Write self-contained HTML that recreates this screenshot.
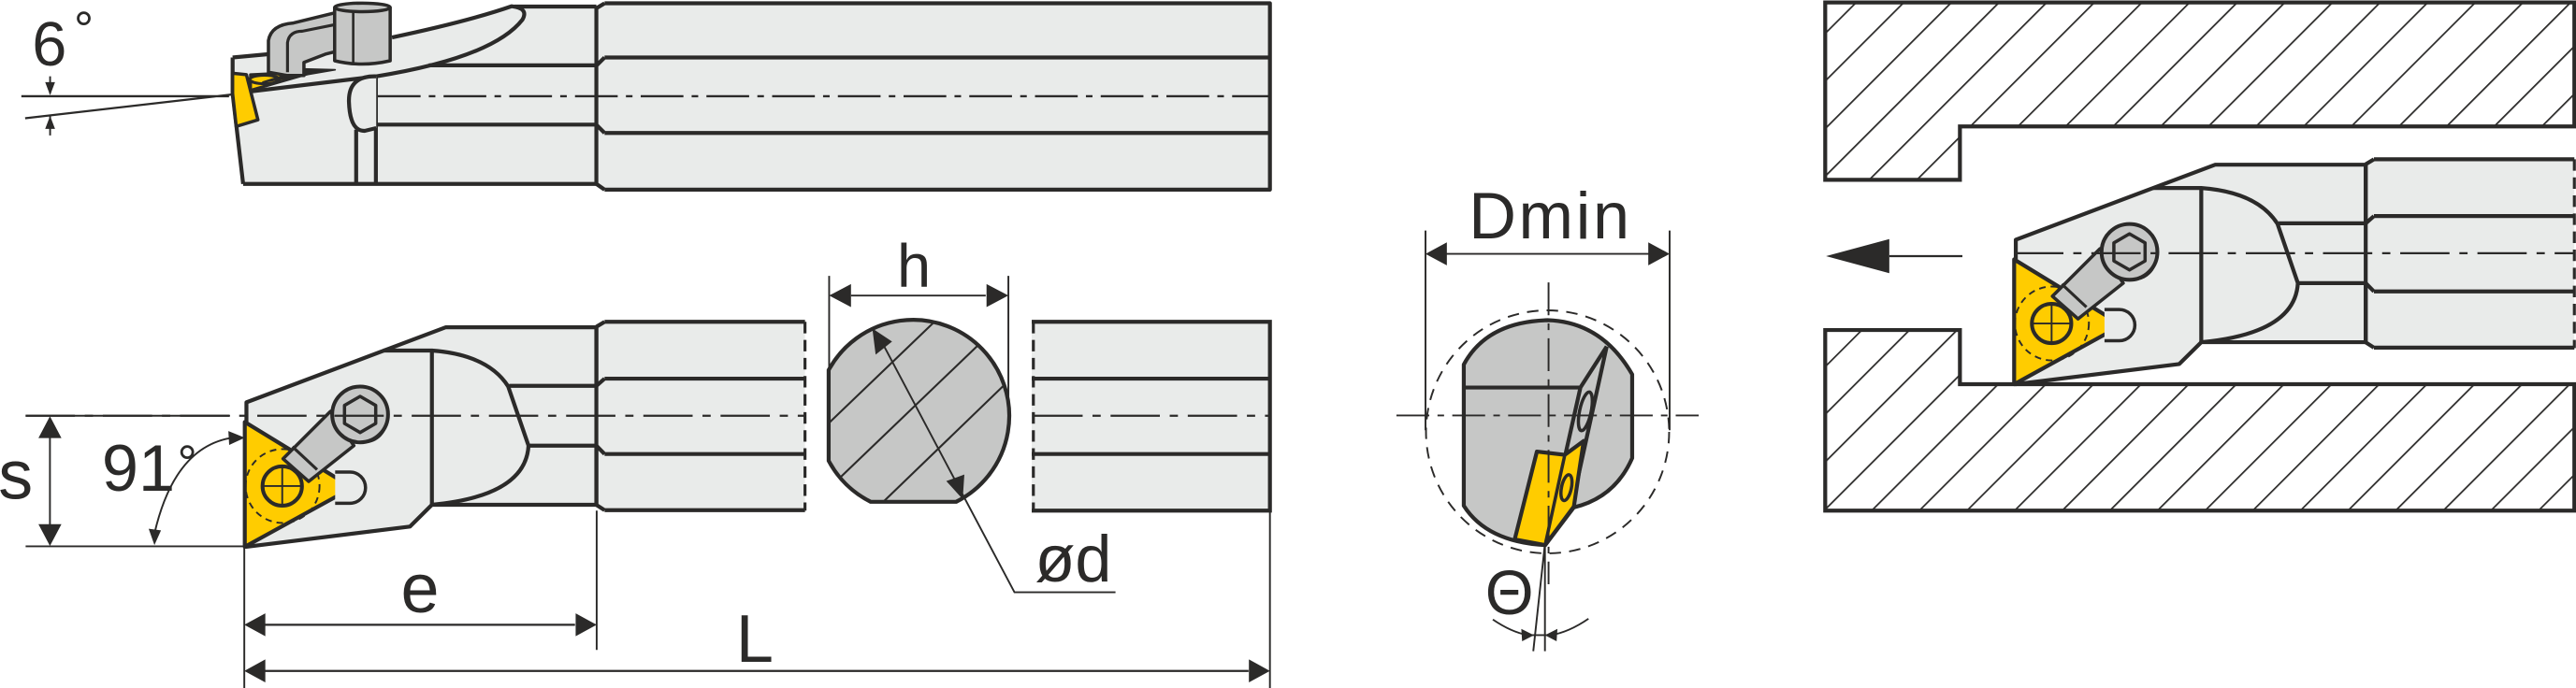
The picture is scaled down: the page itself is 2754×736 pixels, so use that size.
<!DOCTYPE html>
<html><head><meta charset="utf-8"><style>
html,body{margin:0;padding:0;background:#fff;}
svg{display:block;}
text{font-family:"Liberation Sans",sans-serif;fill:#2b2a29;}
</style></head><body>
<svg width="2754" height="736" viewBox="0 0 1568 419" preserveAspectRatio="none" xmlns="http://www.w3.org/2000/svg">
<defs>
<pattern id="hat" patternUnits="userSpaceOnUse" width="20.5" height="20.5" patternTransform="rotate(45)">
<rect width="20.5" height="20.5" fill="#fff"/>
<line x1="0" y1="0" x2="0" y2="20.5" stroke="#2b2a29" stroke-width="2"/>
</pattern>
<clipPath id="cc"><path d="M504.4,225.4 A58.5,58.5 0 1 1 582,305.6 L530,305.6 A58.5,58.5 0 0 1 504.4,280.6 Z"/></clipPath>
<g id="tool" stroke="#2b2a29" stroke-linejoin="round">
  <path d="M363,199 L368,196 L490,196 L490,311 L368,311 L363,307.5 Z" fill="#e9ebea" stroke="none"/>
  <path d="M368,196 L490,196 M368,230.6 L490,230.6 M368,276.5 L490,276.5 M368,310.7 L490,310.7 M363,199 L368,196 M363,235 L368,230.6 M363,271.4 L368,276.5 M363,307.5 L368,310.7" fill="none" stroke-width="2.4"/>
  <path d="M490,196 L490,311" stroke-width="1.8" stroke-dasharray="7,4" fill="none"/>
  <path d="M310,235 L363,235 L363,271.4 L322,271.4 Z" fill="#e9ebea" stroke="none"/>
  <path d="M150,245 L271.4,199.3 L363,199.3 L363,307.4 L262.9,307.4 L249.5,320.7 L150,333 Z" fill="#e9ebea" stroke-width="2.4"/>
  <path d="M363,199.3 L363,235 L310,235 M363,307.4 L363,271.4 L322,271.4" fill="none" stroke-width="2.4"/>
  <path d="M233.4,213.5 L262.9,213.5 L262.9,307.4 M262.9,213.5 Q297,216 309.3,235.3 L321.7,271.4 Q320,302 262.9,307.4" fill="none" stroke-width="2.4"/>
  <path d="M149,257 L214.5,297 L149,333 Z" fill="#ffcc00" stroke-width="2.4"/>
  <circle cx="172" cy="296" r="22.5" fill="none" stroke-width="1.1" stroke-dasharray="4,3"/>
  <circle cx="171.8" cy="296" r="12" fill="#ffcc00" stroke-width="2.3"/>
  <path d="M160,296 H184 M171.8,284 V308" stroke-width="1.1"/>
  <path d="M204,287.5 L213,287.5 A9.5,9.5 0 0 1 213,306.5 L204,306.5" fill="#e9ebea" stroke-width="2"/>
  <path d="M172.3,279.4 L187.9,293.2 L215.4,271.4 L201.2,250.5 Z" fill="#c6c7c6" stroke-width="2"/>
  <path d="M178,272 L193,286" stroke-width="1.8"/>
  <circle cx="222" cy="256" r="13" fill="#c6c7c6" stroke-width="1.8"/>
  <circle cx="219.2" cy="252.4" r="17" fill="#c6c7c6" stroke-width="2.3"/>
  <polygon points="219.2,241.4 228.7,246.9 228.7,257.9 219.2,263.4 209.7,257.9 209.7,246.9" fill="#c6c7c6" stroke-width="2"/>
</g>
</defs>

<g stroke="#2b2a29" stroke-linejoin="round">
  <path d="M142,35 L163,33 L239,23 Q290,12 313,4 L364,4 L364,112 L148,112 L141,58 Z" fill="#e9ebea" stroke="none"/>
  <path d="M368,2 L773,2 L773,115 L368,115 L363,112 L363,5 Z" fill="#e9ebea" stroke="none"/>
  <path d="M368,2 L773,2 L773,115.5 L368,115.5 M363,112 L368,115.5 M363,5 L368,2 M363,5 L363,112 M368,35 L773,35 M368,81 L773,81 M363,40 L368,35 M363,76 L368,81" fill="none" stroke-width="2.4"/>
  <path d="M261,39.8 L363,39.8 M229,75.9 L363,75.9 M313,4 L363,4 M148,112 L363,112" fill="none" stroke-width="2.4"/>
  <path d="M141.6,35 L163,33 M141.6,35 L141.6,57 L148,112" fill="none" stroke-width="2.4"/>
  <path d="M238.6,22.8 Q285,13 311.5,3.8 Q322,5 318,12 Q300,35 229,46.5 L141.6,57" fill="none" stroke-width="2.4"/>
  <path d="M216.8,79 L216.8,112 M228.8,46.5 L228.8,112" fill="none" stroke-width="2.4"/>
  <path d="M229,46.5 Q212,46 212.4,62 Q213,80 222,79.7 L229,78" fill="#e9ebea" stroke-width="2.4"/>
  <path d="M141.6,44.6 L150,45.5 L157,73 L143.8,77 L141.6,57 Z" fill="#ffcc00" stroke-width="2"/>
  <path d="M152.5,45.5 L191.7,43.6 L152.5,55 Z" fill="#ffcc00" stroke-width="1.8"/>
  <ellipse cx="161" cy="48.4" rx="9" ry="2.6" fill="#ffcc00" stroke-width="1.8"/>
  <path d="M185,42 L204,42.5 L160,50 Z" fill="#2b2a29" stroke-width="1"/>
  <path d="M163.4,34 L163.4,24.7 Q165,15 178.6,14 L204.8,7.6 L204.8,31.3 L198,33 L185,38 L185,46 L175,46 L163.4,44 Z" fill="#c6c7c6" stroke-width="2"/>
  <path d="M175,44 L175,26 Q176,19 184,19 L204,15" fill="none" stroke-width="1.8"/>
  <path d="M203.7,5 L203.7,37 Q220,41 237.5,37 L237.5,5 Z" fill="#c6c7c6" stroke-width="2"/>
  <ellipse cx="220.6" cy="4.5" rx="16.9" ry="2.6" fill="#c6c7c6" stroke-width="2"/>
  <path d="M215,6 L215,38" stroke-width="1.5"/>
  <path d="M230,58.6 L773,58.6" stroke-width="1.3" stroke-dasharray="26,5,4,5" fill="none"/>
  <path d="M13,58.6 L139.4,58.6 M15.3,72 L141.6,57.5" stroke-width="1.3" fill="none"/>
  <path d="M30.5,46.5 L30.5,57 M30.5,70.6 L30.5,82.5" stroke-width="1.1"/>
  <path d="M30.5,58 L27.5,50 L33.5,50 Z M30.5,70.6 L27.5,78.5 L33.5,78.5 Z" fill="#2b2a29" stroke="none"/>
</g>
<text x="19.5" y="39.8" font-size="38">6</text>
<text x="45" y="28" font-size="30">°</text>

<use href="#tool"/>
<g stroke="#2b2a29">
  <path d="M628,196 L773,196 L773,311 L628,311 Z" fill="#e9ebea" stroke="none"/>
  <path d="M628,196 L773,196 L773,311 L628,311 M628,230.6 L773,230.6 M628,276.5 L773,276.5" fill="none" stroke-width="2.4"/>
  <path d="M629,196 L629,311" stroke-width="1.8" stroke-dasharray="7,4"/>
  <path d="M15.6,253.2 L490,253.2 M629,253.2 L773,253.2" stroke-width="1.3" stroke-dasharray="30,6,5,6" fill="none"/>
  <path d="M15.6,253.2 L140,253.2 M15.6,332.7 L150,332.7" stroke-width="1.1"/>
  <path d="M504.4,225.4 A58.5,58.5 0 1 1 582,305.6 L530,305.6 A58.5,58.5 0 0 1 504.4,280.6 Z" fill="#c6c7c6" stroke="none"/>
  <g clip-path="url(#cc)" stroke-width="1.2">
    <line x1="500" y1="262" x2="575" y2="190"/>
    <line x1="506" y1="296" x2="605" y2="201"/>
    <line x1="530" y1="313" x2="618" y2="228"/>
  </g>
  <path d="M504.4,225.4 A58.5,58.5 0 1 1 582,305.6 L530,305.6 A58.5,58.5 0 0 1 504.4,280.6 Z" fill="none" stroke-width="2.4"/>
  <path d="M534.3,203.6 L617.5,360.7 L679,360.7" fill="none" stroke-width="1.1"/>
  <path d="M531,200 L543,208 L533,216 Z M586,304 L576,293 L587,289 Z" fill="#2b2a29" stroke="none"/>
  <path d="M504.7,168 L504.7,225 M613.8,168 L613.8,250 M518,180 L600,180" stroke-width="1.1"/>
  <path d="M504.7,180 L518,173 L518,187 Z M613.8,180 L600.5,173 L600.5,187 Z" fill="#2b2a29" stroke="none"/>
  <path d="M30.4,266 L30.4,320" stroke-width="1.1"/>
  <path d="M30.4,253.5 L23.4,266.8 L37.4,266.8 Z M30.4,332.5 L23.4,319.2 L37.4,319.2 Z" fill="#2b2a29" stroke="none"/>
  <path d="M140,266.8 Q106,273 94,325" fill="none" stroke-width="1.1"/>
  <path d="M149,266.6 L139,262.5 L139.5,271 Z M94,332 L90.5,322 L98,323 Z" fill="#2b2a29" stroke="none"/>
  <path d="M148.7,333 L148.7,419 M363.2,311 L363.2,395.8 M773,311 L773,419" stroke-width="1.1"/>
  <path d="M161,380.5 L350,380.5 M161,408.6 L760,408.6" stroke-width="1.3"/>
  <path d="M148.7,380.5 L161.5,373.5 L161.5,387.5 Z M363.2,380.5 L350.4,373.5 L350.4,387.5 Z M148.7,408.6 L161.5,401.6 L161.5,415.6 Z M773,408.6 L760.2,401.6 L760.2,415.6 Z" fill="#2b2a29" stroke="none"/>
</g>
<text x="-1" y="303.6" font-size="42">s</text>
<text x="62" y="299" font-size="40">91</text>
<text x="108" y="292" font-size="30">°</text>
<text x="244" y="373" font-size="42">e</text>
<text x="448" y="403" font-size="41">L</text>
<text x="546" y="174.5" font-size="37">h</text>
<text x="630" y="354" font-size="40">ød</text>

<g stroke="#2b2a29" stroke-linejoin="round">
  <path d="M867.7,140.4 L867.7,262 M1016.3,140.4 L1016.3,262 M880,154.6 L1004,154.6" stroke-width="1.1"/>
  <path d="M867.7,154.6 L880.7,147.6 L880.7,161.6 Z M1016.3,154.6 L1003.3,147.6 L1003.3,161.6 Z" fill="#2b2a29" stroke="none"/>
  <path d="M891,222 Q905,196 942,195 Q975,196 993.5,228 L993.5,279 Q983,303 958,309 L940.5,332 Q905,330 891,308 Z" fill="#c6c7c6" stroke-width="2.4"/>
  <path d="M891,236 L962,236" stroke-width="2.4"/>
  <path d="M978,211 L962,236 L940.5,332 M978,211 L956.5,309" fill="none" stroke-width="2.4"/>
  <path d="M935.5,275 L952.5,277 L964,268.5 L958,308.5 L940.5,332 L922,328.5 Z" fill="#ffcc00" stroke-width="2.4"/>
  <path d="M952.5,277 L940.5,332" stroke-width="2"/>
  <ellipse cx="965" cy="250.5" rx="3.5" ry="12" transform="rotate(12 965 250.5)" fill="none" stroke-width="2"/>
  <ellipse cx="953.5" cy="297" rx="3" ry="8" transform="rotate(12 953.5 297)" fill="none" stroke-width="2"/>
  <circle cx="942" cy="263" r="74" fill="none" stroke-width="1.1" stroke-dasharray="7,5"/>
  <path d="M850,253 L1034,253" stroke-width="1.1" stroke-dasharray="20,5,4,5"/>
  <path d="M942.6,172 L942.6,355.8" stroke-width="1.1" stroke-dasharray="20,5,4,5"/>
  <path d="M940.4,331.2 L933.3,396.6 M940.4,331.2 L940.4,396.6" stroke-width="1.1"/>
  <path d="M908.7,377.3 Q920,385 930,386.8 M966.9,376.8 Q955,385 944,386.8 M930,386.8 L944,386.8" fill="none" stroke-width="1.1"/>
  <path d="M933.7,386.8 L926,383 L926.5,390.5 Z M940.4,386.8 L948,383 L947.5,390.5 Z" fill="#2b2a29" stroke="none"/>
</g>
<text x="894" y="145.2" font-size="40" letter-spacing="1.5">Dmin</text>
<text x="904" y="373.9" font-size="38">Θ</text>

<g stroke="#2b2a29" stroke-linejoin="miter">
  <path d="M1111,1.5 L1567,1.5 L1567,77 L1193,77 L1193,109.5 L1111,109.5 Z" fill="url(#hat)" stroke-width="2.4"/>
  <path d="M1111,201 L1193,201 L1193,234 L1567,234 L1567,311 L1111,311 Z" fill="url(#hat)" stroke-width="2.4"/>
  <path d="M1150,156 L1194.5,156" stroke-width="1.3"/>
  <path d="M1111.5,156 L1150,145.6 L1150,166.4 Z" fill="#2b2a29" stroke="none"/>
</g>
<use href="#tool" transform="translate(1077,-99)"/>
<path d="M1226,154.2 L1567,154.2" stroke="#2b2a29" stroke-width="1.3" stroke-dasharray="30,6,5,6" fill="none"/>
</svg>
</body></html>
